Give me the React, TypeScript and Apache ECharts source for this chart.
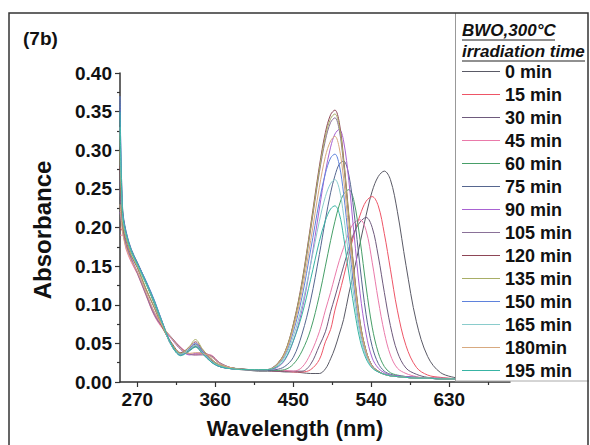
import React, { useEffect, useRef } from "react";
import * as echarts from "echarts";

const wavelengths = [250, 253, 257, 263, 270, 280, 290, 300, 310, 320, 330, 337, 345, 355, 365, 380, 400, 410, 420, 430, 440,
  450, 460, 470, 480, 487, 493, 498, 503, 508, 514, 520, 527, 534, 541, 548, 555, 562, 570, 580, 592, 605, 620, 640];

const seriesNames = ["0 min", "15 min", "30 min", "45 min", "60 min", "75 min", "90 min", "105 min", "120 min", "135 min", "150 min", "165 min", "180min", "195 min"];
const seriesColors = ["#5a5a66", "#ee5566", "#6e5a7c", "#ea7aaa", "#479f68", "#56668f", "#a862d2", "#8a7198", "#8e4656", "#a8ae66", "#5f82dc", "#8acccc", "#d8aa80", "#38b4a4"];

const s0 = [0.24, 0.212, 0.188, 0.168, 0.153, 0.13, 0.104, 0.074, 0.048, 0.036, 0.041, 0.046, 0.038, 0.027, 0.02, 0.017, 0.015, 0.014, 0.014, 0.014, 0.013,
  0.013, 0.012, 0.011, 0.011, 0.017, 0.030, 0.044, 0.062, 0.081, 0.114, 0.144, 0.180, 0.216, 0.247, 0.266, 0.273, 0.262, 0.221, 0.151, 0.078, 0.033, 0.012, 0.005];
const s15 = [0.20, 0.195, 0.176, 0.158, 0.142, 0.114, 0.087, 0.069, 0.056, 0.044, 0.036, 0.036, 0.037, 0.034, 0.024, 0.018, 0.016, 0.015, 0.015, 0.014, 0.014,
  0.013, 0.013, 0.016, 0.029, 0.052, 0.068, 0.093, 0.114, 0.136, 0.164, 0.191, 0.216, 0.234, 0.240, 0.228, 0.192, 0.146, 0.093, 0.047, 0.019, 0.009, 0.006, 0.004];
const s30 = [0.26, 0.218, 0.192, 0.17, 0.154, 0.128, 0.1, 0.071, 0.046, 0.035, 0.043, 0.049, 0.04, 0.028, 0.021, 0.017, 0.016, 0.015, 0.015, 0.014, 0.014,
  0.014, 0.014, 0.023, 0.047, 0.065, 0.091, 0.110, 0.130, 0.150, 0.173, 0.193, 0.207, 0.213, 0.200, 0.163, 0.116, 0.073, 0.039, 0.018, 0.010, 0.006, 0.005, 0.004];
const s45 = [0.19, 0.19, 0.172, 0.155, 0.14, 0.112, 0.085, 0.068, 0.057, 0.045, 0.037, 0.035, 0.036, 0.035, 0.025, 0.018, 0.016, 0.015, 0.015, 0.015, 0.015,
  0.014, 0.019, 0.037, 0.065, 0.093, 0.116, 0.137, 0.157, 0.174, 0.193, 0.206, 0.210, 0.196, 0.155, 0.106, 0.064, 0.035, 0.018, 0.011, 0.007, 0.005, 0.005, 0.004];
const s60 = [0.32, 0.22, 0.19, 0.168, 0.151, 0.127, 0.101, 0.073, 0.047, 0.037, 0.042, 0.047, 0.039, 0.027, 0.021, 0.018, 0.016, 0.015, 0.015, 0.015, 0.016,
  0.023, 0.040, 0.068, 0.112, 0.150, 0.183, 0.208, 0.229, 0.243, 0.249, 0.234, 0.184, 0.123, 0.071, 0.038, 0.020, 0.012, 0.009, 0.007, 0.006, 0.005, 0.004, 0.004];
const s75 = [0.36, 0.225, 0.195, 0.172, 0.155, 0.13, 0.103, 0.072, 0.046, 0.035, 0.041, 0.046, 0.037, 0.026, 0.02, 0.017, 0.016, 0.015, 0.015, 0.016, 0.020,
  0.032, 0.062, 0.106, 0.165, 0.210, 0.245, 0.267, 0.282, 0.286, 0.268, 0.220, 0.149, 0.087, 0.046, 0.024, 0.014, 0.010, 0.008, 0.007, 0.006, 0.005, 0.004, 0.004];
const s90 = [0.22, 0.2, 0.178, 0.16, 0.143, 0.116, 0.089, 0.07, 0.055, 0.042, 0.035, 0.037, 0.038, 0.033, 0.024, 0.018, 0.016, 0.016, 0.016, 0.018, 0.028,
  0.053, 0.093, 0.153, 0.224, 0.272, 0.304, 0.321, 0.327, 0.312, 0.261, 0.192, 0.115, 0.062, 0.031, 0.018, 0.012, 0.009, 0.008, 0.007, 0.006, 0.005, 0.004, 0.004];
const s105 = [0.25, 0.198, 0.177, 0.159, 0.141, 0.113, 0.086, 0.07, 0.057, 0.044, 0.036, 0.035, 0.035, 0.034, 0.025, 0.018, 0.016, 0.016, 0.016, 0.022, 0.037,
  0.073, 0.126, 0.197, 0.271, 0.313, 0.336, 0.342, 0.326, 0.282, 0.211, 0.141, 0.076, 0.040, 0.021, 0.014, 0.010, 0.008, 0.007, 0.006, 0.005, 0.005, 0.004, 0.004];
const s120 = [0.28, 0.205, 0.183, 0.163, 0.148, 0.12, 0.095, 0.068, 0.05, 0.038, 0.045, 0.052, 0.042, 0.03, 0.022, 0.018, 0.016, 0.016, 0.016, 0.022, 0.038,
  0.075, 0.130, 0.203, 0.279, 0.323, 0.346, 0.352, 0.336, 0.290, 0.217, 0.145, 0.078, 0.040, 0.021, 0.014, 0.010, 0.008, 0.007, 0.006, 0.005, 0.005, 0.004, 0.004];
const s135 = [0.30, 0.207, 0.185, 0.164, 0.149, 0.121, 0.096, 0.069, 0.049, 0.037, 0.046, 0.055, 0.043, 0.03, 0.022, 0.018, 0.016, 0.016, 0.016, 0.022, 0.038,
  0.074, 0.128, 0.200, 0.275, 0.318, 0.341, 0.347, 0.331, 0.286, 0.214, 0.143, 0.077, 0.040, 0.021, 0.014, 0.010, 0.008, 0.007, 0.006, 0.005, 0.005, 0.004, 0.004];
const s150 = [0.37, 0.222, 0.194, 0.171, 0.154, 0.131, 0.105, 0.074, 0.047, 0.035, 0.043, 0.05, 0.04, 0.027, 0.02, 0.017, 0.016, 0.016, 0.016, 0.021, 0.034,
  0.065, 0.110, 0.171, 0.234, 0.270, 0.290, 0.295, 0.281, 0.244, 0.182, 0.123, 0.067, 0.036, 0.020, 0.013, 0.010, 0.008, 0.007, 0.006, 0.005, 0.005, 0.004, 0.004];
const s165 = [0.33, 0.215, 0.19, 0.169, 0.152, 0.128, 0.102, 0.072, 0.046, 0.036, 0.042, 0.047, 0.038, 0.027, 0.021, 0.017, 0.016, 0.016, 0.016, 0.020, 0.032,
  0.059, 0.099, 0.152, 0.208, 0.240, 0.257, 0.262, 0.250, 0.216, 0.162, 0.110, 0.061, 0.033, 0.019, 0.013, 0.010, 0.008, 0.007, 0.006, 0.005, 0.005, 0.004, 0.004];
const s180 = [0.23, 0.193, 0.174, 0.157, 0.143, 0.116, 0.09, 0.071, 0.056, 0.043, 0.037, 0.038, 0.037, 0.033, 0.024, 0.018, 0.016, 0.016, 0.016, 0.021, 0.036,
  0.069, 0.118, 0.183, 0.252, 0.292, 0.312, 0.318, 0.303, 0.263, 0.196, 0.132, 0.071, 0.038, 0.020, 0.013, 0.010, 0.008, 0.007, 0.006, 0.005, 0.005, 0.004, 0.004];
const s195 = [0.35, 0.218, 0.192, 0.17, 0.153, 0.129, 0.103, 0.073, 0.047, 0.034, 0.04, 0.045, 0.037, 0.026, 0.02, 0.017, 0.016, 0.016, 0.016, 0.019, 0.029,
  0.053, 0.087, 0.133, 0.182, 0.209, 0.224, 0.228, 0.218, 0.188, 0.141, 0.097, 0.054, 0.030, 0.018, 0.013, 0.010, 0.008, 0.007, 0.006, 0.005, 0.005, 0.004, 0.004];

const seriesValues = [s0, s15, s30, s45, s60, s75, s90, s105, s120, s135, s150, s165, s180, s195];

const xTickValues = [270, 360, 450, 540, 630];
const xMinorTickValues = [315, 405, 495, 585, 675];

const FONT = "'Liberation Sans', Arial, Helvetica, sans-serif";
const AXIS_COLOR = "#333";

export default function App() {
  const ref = useRef<HTMLDivElement>(null);
  useEffect(() => {
    const chart = echarts.init(ref.current as HTMLDivElement, null, { renderer: "svg" });
    const tickStyle = { color: AXIS_COLOR, width: 1.2 };
    chart.setOption({
      animation: false,
      backgroundColor: "#fff",
      grid: { left: 120, top: 73, width: 390, height: 309, containLabel: false },
      xAxis: [
        {
          type: "value", min: 250, max: 700, position: "bottom",
          axisLine: { show: true, lineStyle: { color: AXIS_COLOR, width: 1.5 } },
          axisTick: { show: true, customValues: xTickValues, length: 5, lineStyle: tickStyle },
          axisLabel: { show: true, customValues: xTickValues, margin: 8, fontFamily: FONT, fontWeight: "bold", fontSize: 19, color: "#111" },
          splitLine: { show: false },
        },
        {
          type: "value", min: 250, max: 700, position: "bottom",
          axisLine: { show: false },
          axisTick: { show: true, customValues: xMinorTickValues, length: 3, lineStyle: tickStyle },
          axisLabel: { show: false },
          splitLine: { show: false },
        },
      ],
      yAxis: {
        type: "value", min: 0, max: 0.4, interval: 0.05,
        axisLine: { show: true, lineStyle: { color: AXIS_COLOR, width: 1.5 } },
        axisTick: { show: true, length: 5, lineStyle: tickStyle },
        minorTick: { show: true, splitNumber: 2, length: 3, lineStyle: tickStyle },
        axisLabel: { formatter: (v: number) => v.toFixed(2), margin: 8, fontFamily: FONT, fontWeight: "bold", fontSize: 19, color: "#111" },
        splitLine: { show: false },
        minorSplitLine: { show: false },
      },
      legend: {
        orient: "vertical", left: 462, top: 60, itemWidth: 38, itemHeight: 1.2, itemGap: 0,
        icon: "rect",
        selectedMode: false, z: 100, padding: 0,
        data: seriesNames,
        textStyle: { fontFamily: FONT, fontWeight: "bold", fontSize: 18, color: "#111", lineHeight: 23 },
      },
      graphic: [
        { type: "rect", z: 50, silent: true, shape: { x: 456, y: 14, width: 133, height: 366 }, style: { fill: "#fff" } },
        { type: "line", z: 51, silent: true, shape: { x1: 455.5, y1: 13, x2: 455.5, y2: 381 }, style: { stroke: "#999", lineWidth: 1 } },
        { type: "line", z: 51, silent: true, shape: { x1: 455, y1: 381, x2: 589, y2: 381 }, style: { stroke: "#aaa", lineWidth: 1 } },
        { type: "rect", z: 52, silent: true, shape: { x: 9, y: 13, width: 579, height: 450 }, style: { fill: "none", stroke: "#333", lineWidth: 1.5 } },
        { type: "text", z: 52, silent: true, x: 23, y: 38, style: { text: "(7b)", fontFamily: FONT, fontWeight: "bold", fontSize: 19, fill: "#111", verticalAlign: "middle" } },
        { type: "text", z: 52, silent: true, x: 462, y: 30, style: { text: "BWO,300°C", fontFamily: FONT, fontWeight: "bold", fontStyle: "italic", fontSize: 17, fill: "#111", verticalAlign: "middle" } },
        { type: "line", z: 52, silent: true, shape: { x1: 462, y1: 40, x2: 555, y2: 40 }, style: { stroke: "#222", lineWidth: 1.2 } },
        { type: "text", z: 52, silent: true, x: 462, y: 51, style: { text: "irradiation time", fontFamily: FONT, fontWeight: "bold", fontStyle: "italic", fontSize: 17, fill: "#111", verticalAlign: "middle" } },
        { type: "line", z: 52, silent: true, shape: { x1: 462, y1: 61, x2: 585, y2: 61 }, style: { stroke: "#222", lineWidth: 1.2 } },
        { type: "text", z: 52, silent: true, x: 42, y: 230, rotation: Math.PI / 2, style: { text: "Absorbance", fontFamily: FONT, fontWeight: "bold", fontSize: 24, fill: "#111", align: "center", verticalAlign: "middle" } },
        { type: "text", z: 52, silent: true, x: 295, y: 428, style: { text: "Wavelength (nm)", fontFamily: FONT, fontWeight: "bold", fontSize: 22, fill: "#111", align: "center", verticalAlign: "middle" } },
      ],
      series: seriesValues.map((vals, i) => ({
        type: "line",
        name: seriesNames[i],
        xAxisIndex: 0,
        symbol: "none",
        smooth: 0.35,
        color: seriesColors[i],
        lineStyle: { width: 1, color: seriesColors[i] },
        data: wavelengths.map((w, j) => [w, vals[j]]),
      })),
    });
    return () => chart.dispose();
  }, []);
  return <div ref={ref} style={{ position: "absolute", left: 0, top: 0, width: 590, height: 445 }} />;
}
